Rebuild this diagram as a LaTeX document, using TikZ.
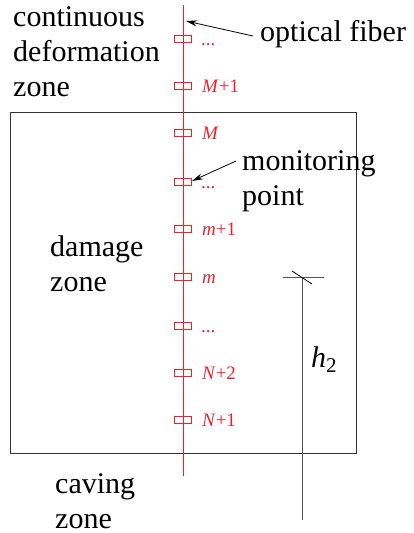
\documentclass[tikz,border=0pt]{standalone}
\usepackage{fontspec}
\setmainfont{Liberation Serif}
\usetikzlibrary{arrows.meta}
\definecolor{fib}{RGB}{236,34,44}
\definecolor{dim}{RGB}{85,85,85}
\begin{document}
\begin{tikzpicture}[x=1pt,y=-1pt,
  big/.style={font=\fontsize{30}{35}\selectfont, inner sep=0pt, anchor=base west, align=left},
  lab/.style={font=\fontsize{19}{22}\selectfont, text=fib, inner sep=0pt, anchor=base west},
  mp/.style={draw=fib, line width=0.8pt, minimum width=17pt, minimum height=6.5pt, inner sep=0pt},
  arr/.style={-{Stealth[length=11pt,width=6pt]}, line width=0.8pt}]
\useasboundingbox (0,0) rectangle (413,533);
% box
\draw[line width=0.9pt, black!80] (10,112) rectangle (356,453);
% fiber
\coordinate (ftop) at (183,5);
\coordinate (fbot) at (183,476);
\draw[fib, line width=0.8pt] (ftop) -- (fbot);
% monitoring points
\foreach \n/\y in {p1/39,p2/86,p3/133,p4/182,p5/229,p6/277,p7/326,p8/373,p9/420}
  \node[mp] (\n) at (183,\y) {};
\node[lab] at (201,45) {...};
\node[lab] at (202,92) {\textit{M}+1};
\node[lab] at (202,139) {\textit{M}};
\node[lab] at (201,188) {...};
\node[lab] at (202,235) {\textit{m}+1};
\node[lab] at (202,283) {\textit{m}};
\node[lab] at (201,332) {...};
\node[lab] at (202,379) {\textit{N}+2};
\node[lab] at (202,426) {\textit{N}+1};
% texts (base anchor = last line)
\node[big] (cdz) at (13,96) {continuous\\deformation\\zone};
\node[big] (dz) at (50,291) {damage\\zone};
\node[big] (cz) at (55,528) {caving\\zone};
\node[big] (of) at (260,41) {optical fiber};
\node[big] (mpt) at (242,205) {monitoring\\point};
% arrows
\coordinate (ofa) at (253,36);
\coordinate (ofb) at (186,21);
\draw[arr] (ofa) -- (ofb);
\coordinate (mpa) at (236,161);
\coordinate (mpb) at (192,181);
\draw[arr] (mpa) -- (mpb);
% h2 dimension
\coordinate (ht) at (302,277);
\coordinate (hb) at (302,520);
\draw[dim, line width=0.9pt] (ht) -- (hb);
\draw[dim, line width=0.9pt] (283,277) -- (324,277);
\draw[black, line width=0.8pt] (292,271) -- (312,284);
\node[big] (h2) at (311,367) {\textit{h}\textsubscript{2}};
\end{tikzpicture}
\end{document}
